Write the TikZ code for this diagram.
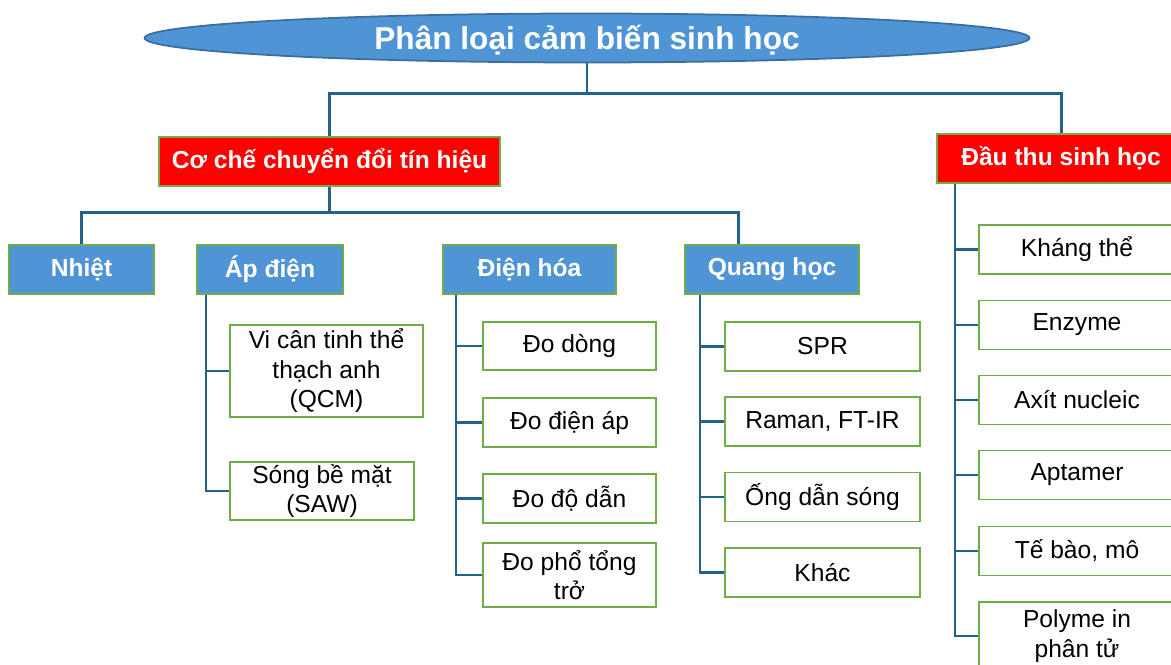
\documentclass[tikz,border=0pt]{standalone}
\usepackage{fontspec}
\setmainfont{Liberation Sans}
\usetikzlibrary{shapes.geometric}
\definecolor{boxblue}{HTML}{4F95D6}
\definecolor{rimblue}{HTML}{3A6E9E}
\definecolor{boxgreen}{HTML}{70AD47}
\definecolor{linkblue}{HTML}{22628C}
\tikzset{
  headbox/.style={draw=boxgreen, line width=1.1pt, text=white, font=\bfseries\fontsize{14}{16.8}\selectfont, inner sep=0pt, minimum height=0.98cm},
  leafbox/.style={draw=boxgreen, line width=1.1pt, fill=white, font=\fontsize{14}{16.8}\selectfont, align=center, inner sep=0pt},
  trunk/.style={draw=linkblue, line width=1.7pt},
  twig/.style={draw=linkblue, line width=1.3pt}
}
\begin{document}
\begin{tikzpicture}[x=0.02cm, y=-0.02cm]
  \clip (0,0) rectangle (1171,665);
  \node[ellipse, draw=rimblue, line width=1pt, fill=boxblue, text=white, font=\bfseries\fontsize{18}{21}\selectfont, text height=15pt, text depth=2pt, inner ysep=1.3pt, minimum width=17.7cm, minimum height=0.98cm] (root) at (587,38) {Phân loại cảm biến sinh học};
  \node[headbox, fill=red, minimum width=6.82cm] (coche) at (329.5,161.5) {Cơ chế chuyển đổi tín hiệu};
  \node[headbox, fill=red, minimum width=4.96cm] (dauthu) at (1061,158.5) {Đầu thu sinh học};
  \foreach \nm/\cx/\w/\txt in {nhiet/81.5/145/Nhiệt, apdien/270/146/Áp điện, dienhoa/529.5/173/Điện hóa, quang/772/174/Quang học} {
    \node[headbox, fill=boxblue, minimum width=\w*0.02cm] (\nm) at (\cx,269.5) {\txt};
  }
  \draw[trunk] (root.south) -- +(0,30) -| (coche.north);
  \draw[trunk] (root.south) -- +(0,30) -| (dauthu.north);
  \draw[trunk] (coche.south) -- +(0,26) -| (nhiet.north);
  \draw[trunk] (coche.south) -- +(0,26) -| ([xshift=1.08cm]quang.north west);
  \foreach \nm/\hd/\dx/\cx/\cy/\w/\h/\txt in {
      qcm/apdien/10/326.5/371/193/92/{Vi cân tinh thể\\thạch anh\\(QCM)},
      saw/apdien/10/322/491/184/58/{Sóng bề mặt\\(SAW)},
      dodong/dienhoa/14/569.5/346/173/48/Đo dòng,
      doap/dienhoa/14/569.5/422.5/173/49/Đo điện áp,
      dodan/dienhoa/14/569.5/498.5/173/49/Đo độ dẫn,
      dopho/dienhoa/14/569.5/575/173/64/{Đo phổ tổng\\trở},
      spr/quang/16/822.5/346.5/195/49/SPR,
      raman/quang/16/822.5/421.5/195/49/{Raman, FT-IR},
      ongdan/quang/16/822.5/497/195/49/Ống dẫn sóng,
      khac/quang/16/822.5/572.5/195/49/Khác,
      khangthe/dauthu/19/1077/249.5/196/49/Kháng thể,
      enzyme/dauthu/19/1077/325/196/49/Enzyme,
      axit/dauthu/19/1077/400/196/49/Axít nucleic,
      aptamer/dauthu/19/1077/475/196/49/Aptamer,
      tebao/dauthu/19/1077/551/196/49/{Tế bào, mô},
      polyme/dauthu/19/1077/636/196/68/{Polyme in\\phân tử}} {
    \node[leafbox, minimum width=\w*0.02cm, minimum height=\h*0.02cm] (\nm) at (\cx,\cy) {\txt};
    \draw[twig] ([xshift=\dx*0.02cm]\hd.south west) |- (\nm.west);
  }
\end{tikzpicture}
\end{document}
